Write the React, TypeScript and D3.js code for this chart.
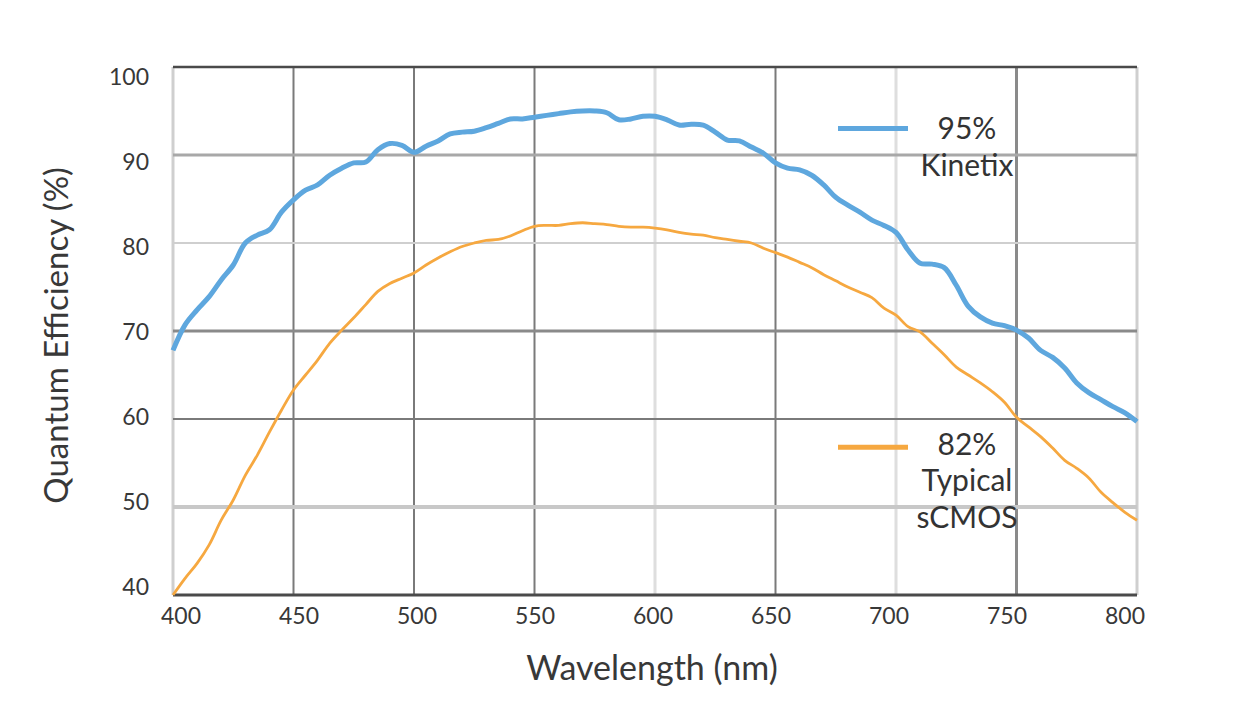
import React from 'react';
import { scaleLinear, line, curveCatmullRom } from 'd3';

// wavelength samples (nm)
const wavelengths = [
  400, 405, 410, 415, 420, 425, 430, 435, 440, 445, 450, 455, 460, 465, 470, 475, 480, 485, 490, 495,
  500, 505, 510, 515, 520, 525, 530, 535, 540, 545, 550, 555, 560, 565, 570, 575, 580, 585, 590, 595,
  600, 605, 610, 615, 620, 625, 630, 635, 640, 645, 650, 655, 660, 665, 670, 675, 680, 685, 690, 695,
  700, 705, 710, 715, 720, 725, 730, 735, 740, 745, 750, 755, 760, 765, 770, 775, 780, 785, 790, 795, 800,
];

const kinetix = [
  67.8, 70.7, 72.4, 73.9, 75.8, 77.5, 80.0, 80.9, 81.5, 83.5, 84.9, 86.0, 86.6, 87.7, 88.5, 89.1, 89.2, 90.6, 91.3, 91.1,
  90.3, 91.0, 91.6, 92.4, 92.6, 92.7, 93.1, 93.6, 94.1, 94.1, 94.3, 94.5, 94.7, 94.9, 95.0, 95.0, 94.8, 94.0, 94.1, 94.4,
  94.4, 94.0, 93.4, 93.5, 93.4, 92.6, 91.7, 91.6, 90.9, 90.2, 89.1, 88.5, 88.3, 87.7, 86.6, 85.2, 84.3, 83.5, 82.6, 82.0,
  81.2, 79.2, 77.7, 77.6, 77.2, 75.2, 72.8, 71.6, 70.9, 70.6, 70.1, 69.2, 67.8, 67.0, 65.8, 64.1, 63.0, 62.2, 61.4, 60.7, 59.7,
];

const typicalSCMOS = [
  40.0, 41.9, 43.6, 45.7, 48.5, 50.8, 53.6, 55.9, 58.5, 61.0, 63.3, 65.0, 66.7, 68.6, 70.1, 71.5, 73.0, 74.5, 75.4, 76.0,
  76.6, 77.5, 78.3, 79.0, 79.6, 80.0, 80.3, 80.4, 80.8, 81.4, 81.9, 82.0, 82.0, 82.2, 82.3, 82.2, 82.1, 81.9, 81.8, 81.8,
  81.7, 81.5, 81.2, 81.0, 80.9, 80.6, 80.4, 80.2, 80.0, 79.4, 78.9, 78.4, 77.8, 77.2, 76.4, 75.7, 75.0, 74.4, 73.8, 72.6,
  71.8, 70.5, 69.9, 68.6, 67.3, 65.9, 65.0, 64.1, 63.1, 61.9, 60.2, 59.1, 58.0, 56.7, 55.3, 54.4, 53.3, 51.7, 50.5, 49.4, 48.5,
];

const xTicks = [400, 450, 500, 550, 600, 650, 700, 750, 800];
const yTicks = [40, 50, 60, 70, 80, 90, 100];

const legendItems = [
  { lines: ['95%', 'Kinetix'], value: 93 },
  { lines: ['82%', 'Typical', 'sCMOS'], value: 56.8 },
];

// grid line looks (the reference mixes darker and lighter rules)
const vGridStyle: Record<number, [string, number]> = {
  400: ['#cfcfcf', 3], 450: ['#7a7a7a', 2], 500: ['#7a7a7a', 2], 550: ['#7a7a7a', 2],
  600: ['#dedede', 3], 650: ['#7a7a7a', 2], 700: ['#dedede', 3], 750: ['#8a8a8a', 3], 800: ['#cfcfcf', 3],
};
const hGridStyle: Record<number, [string, number]> = {
  40: ['#4a4a4a', 3], 50: ['#c8c8c8', 4], 60: ['#7a7a7a', 2], 70: ['#8a8a8a', 3],
  80: ['#cfcfcf', 2], 90: ['#a8a8a8', 3], 100: ['#4a4a4a', 2.5],
};

const BLUE = '#5ea7de';
const ORANGE = '#f6a840';
const FONT = 'Lato, "Open Sans", sans-serif';
const TEXT = '#383838';

const App = () => {
  const width = 1234;
  const height = 719;
  const x = scaleLinear().domain([400, 800]).range([173, 1137]);
  const y = scaleLinear().domain([40, 100]).range([595, 67]);
  // tick labels in the reference sit slightly inside the grid extent
  const xLabel = scaleLinear().domain([400, 800]).range([181, 1125]);
  const yLabel = scaleLinear().domain([40, 100]).range([587, 77]);

  const makeLine = (vals: number[]) =>
    line<number>()
      .x((_, i) => x(wavelengths[i]))
      .y((v) => y(v))
      .curve(curveCatmullRom.alpha(0.5))(vals) || '';

  return (
    <svg width={width} height={height} style={{ position: 'absolute', left: 0, top: 0, background: '#fff' }}>
      <rect width={width} height={height} fill='#fff' />
      {/* grid */}
      {xTicks.map((t) => (
        <line key={'v' + t} x1={x(t)} x2={x(t)} y1={y(100)} y2={y(40)}
          stroke={vGridStyle[t][0]} strokeWidth={vGridStyle[t][1]} />
      ))}
      {yTicks.map((t) => (
        <line key={'h' + t} x1={x(400)} x2={x(800)} y1={y(t)} y2={y(t)}
          stroke={hGridStyle[t][0]} strokeWidth={hGridStyle[t][1]} />
      ))}

      {/* tick labels */}
      {yTicks.map((t) => (
        <text key={'yl' + t} x={149} y={yLabel(t)} dy='0.36em' textAnchor='end'
          fontFamily={FONT} fontSize={23} fill={TEXT}>{t}</text>
      ))}
      {xTicks.map((t) => (
        <text key={'xl' + t} x={xLabel(t)} y={616} dy='0.36em' textAnchor='middle'
          fontFamily={FONT} fontSize={23} fill={TEXT}>{t}</text>
      ))}

      {/* axis titles */}
      <text x={652} y={668} dy='0.36em' textAnchor='middle' fontFamily={FONT} fontSize={34} fill={TEXT}>
        Wavelength (nm)
      </text>
      <text transform={`translate(56, ${y(69.5)}) rotate(-90)`} dy='0.36em' textAnchor='middle'
        fontFamily={FONT} fontSize={33} fill={TEXT}>
        Quantum Efficiency (%)
      </text>

      {/* curves */}
      <path d={makeLine(typicalSCMOS)} fill='none' stroke={ORANGE} strokeWidth={2.8} strokeLinejoin='round' />
      <path d={makeLine(kinetix)} fill='none' stroke={BLUE} strokeWidth={5} strokeLinejoin='round' />

      {/* legend */}
      {legendItems.map((item, k) => {
        const ly = y(item.value);
        return (
          <g key={'lg' + k}>
            <line x1={838} x2={908} y1={ly} y2={ly} stroke={k === 0 ? BLUE : ORANGE} strokeWidth={5} />
            {item.lines.map((s, j) => (
              <text key={j} x={967} y={ly - (k === 1 ? 3 : 0) + j * 36.5} dy='0.36em' textAnchor='middle'
                fontFamily={FONT} fontSize={30} fill='#333'>{s}</text>
            ))}
          </g>
        );
      })}
    </svg>
  );
};

export default App;
